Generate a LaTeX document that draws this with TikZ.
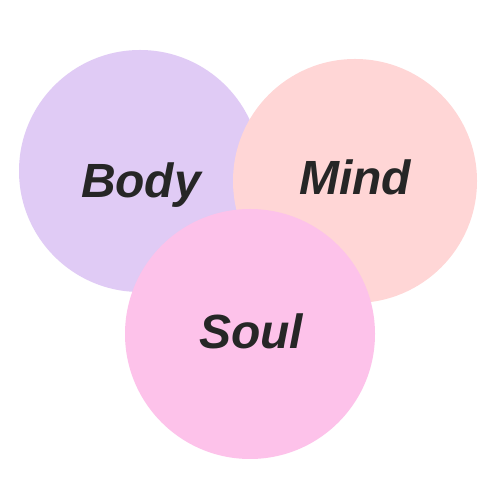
\documentclass[tikz,border=0pt]{standalone}
\usepackage{fontspec}
\setmainfont{Liberation Sans}
\definecolor{bodyc}{HTML}{E0CBF5}
\definecolor{mindc}{HTML}{FFD6D6}
\definecolor{soulc}{HTML}{FDC2EA}
\definecolor{txt}{HTML}{262626}
\begin{document}
\begin{tikzpicture}[x=1pt,y=1pt,
  lbl/.style={font=\fontsize{48}{56}\selectfont\bfseries\itshape, text=txt, anchor=base, inner sep=0}]
\useasboundingbox (0,0) rectangle (500,500);
\fill[white] (0,0) rectangle (500,500);
\node[circle, fill=bodyc, minimum size=242, inner sep=0] (body) at (140,329) {};
\node[circle, fill=mindc, minimum size=244, inner sep=0] (mind) at (355,319) {};
\node[circle, fill=soulc, minimum size=250, inner sep=0] (soul) at (250,166) {};
\node[lbl] (tbody) at (141,302) {Body};
\node[lbl] (tmind) at (355,305) {Mind};
\node[lbl] (tsoul) at (251,151) {Soul};
\end{tikzpicture}
\end{document}
